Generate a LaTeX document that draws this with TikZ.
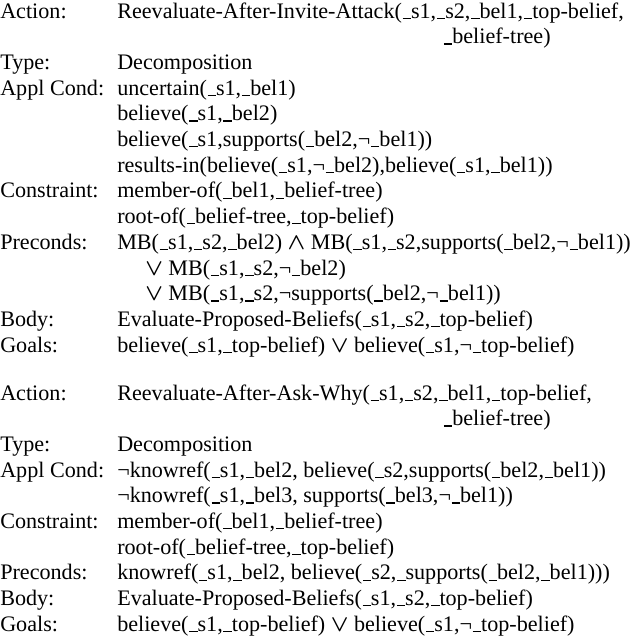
\documentclass[tikz,border=0pt]{standalone}
\usepackage{fontspec}
\setmainfont{Liberation Serif}
\newcommand{\U}{\kern0.03em\rule[-0.6pt]{0.38em}{0.9pt}}
\newcommand{\OR}{\ensuremath{\boldsymbol{\vee}}}
\newcommand{\AND}{\ensuremath{\boldsymbol{\wedge}}}
\usepackage{amsmath,amsbsy}
\begin{document}
\begin{tikzpicture}[x=0.75pt,y=-0.75pt,
  txt/.style={anchor=base west,inner sep=0pt,font=\fontsize{16.6}{20}\selectfont}]
\useasboundingbox (0,0) rectangle (640,636);
% block 1
\def\p{25.7}
\node[txt] (a1) at (0,18) {Action:};
\node[txt] (a1v) at (117,18) {Reevaluate-After-Invite-Attack(\U s1,\U s2,\U bel1,\U top-belief,};
\node[txt] (a1w) at (443,18+\p) {\U belief-tree)};
\node[txt] (t1) at (0,18+2*\p) {Type:};
\node[txt] (t1v) at (117,18+2*\p) {Decomposition};
\node[txt] (c1) at (0,18+3*\p) {Appl Cond:};
\node[txt] (c1a) at (117,18+3*\p) {uncertain(\U s1,\U bel1)};
\node[txt] (c1b) at (117,18+4*\p) {believe(\U s1,\U bel2)};
\node[txt] (c1c) at (117,18+5*\p) {believe(\U s1,supports(\U bel2,¬\U bel1))};
\node[txt] (c1d) at (117,18+6*\p) {results-in(believe(\U s1,¬\U bel2),believe(\U s1,\U bel1))};
\node[txt] (k1) at (0,18+7*\p) {Constraint:};
\node[txt] (k1a) at (117,18+7*\p) {member-of(\U bel1,\U belief-tree)};
\node[txt] (k1b) at (117,18+8*\p) {root-of(\U belief-tree,\U top-belief)};
\node[txt] (p1) at (0,18+9*\p) {Preconds:};
\node[txt] (p1a) at (117,18+9*\p) {MB(\U s1,\U s2,\U bel2) \AND\ MB(\U s1,\U s2,supports(\U bel2,¬\U bel1))};
\node[txt] (p1b) at (145,18+10*\p) {\OR\ MB(\U s1,\U s2,¬\U bel2)};
\node[txt] (p1c) at (145,18+11*\p) {\OR\ MB(\U s1,\U s2,¬supports(\U bel2,¬\U bel1))};
\node[txt] (b1) at (0,18+12*\p) {Body:};
\node[txt] (b1v) at (117,18+12*\p) {Evaluate-Proposed-Beliefs(\U s1,\U s2,\U top-belief)};
\node[txt] (g1) at (0,18+13*\p) {Goals:};
\node[txt] (g1v) at (117,18+13*\p) {believe(\U s1,\U top-belief) \OR\ believe(\U s1,¬\U top-belief)};
% block 2
\node[txt] (a2) at (0,400) {Action:};
\node[txt] (a2v) at (117,400) {Reevaluate-After-Ask-Why(\U s1,\U s2,\U bel1,\U top-belief,};
\node[txt] (a2w) at (443,400+\p) {\U belief-tree)};
\node[txt] (t2) at (0,400+2*\p) {Type:};
\node[txt] (t2v) at (117,400+2*\p) {Decomposition};
\node[txt] (c2) at (0,400+3*\p) {Appl Cond:};
\node[txt] (c2a) at (117,400+3*\p) {¬knowref(\U s1,\U bel2, believe(\U s2,supports(\U bel2,\U bel1))};
\node[txt] (c2b) at (117,400+4*\p) {¬knowref(\U s1,\U bel3, supports(\U bel3,¬\U bel1))};
\node[txt] (k2) at (0,400+5*\p) {Constraint:};
\node[txt] (k2a) at (117,400+5*\p) {member-of(\U bel1,\U belief-tree)};
\node[txt] (k2b) at (117,400+6*\p) {root-of(\U belief-tree,\U top-belief)};
\node[txt] (p2) at (0,400+7*\p) {Preconds:};
\node[txt] (p2a) at (117,400+7*\p) {knowref(\U s1,\U bel2, believe(\U s2,\U supports(\U bel2,\U bel1)))};
\node[txt] (b2) at (0,400+8*\p) {Body:};
\node[txt] (b2v) at (117,400+8*\p) {Evaluate-Proposed-Beliefs(\U s1,\U s2,\U top-belief)};
\node[txt] (g2) at (0,400+9*\p) {Goals:};
\node[txt] (g2v) at (117,400+9*\p) {believe(\U s1,\U top-belief) \OR\ believe(\U s1,¬\U top-belief)};
\end{tikzpicture}
\end{document}
